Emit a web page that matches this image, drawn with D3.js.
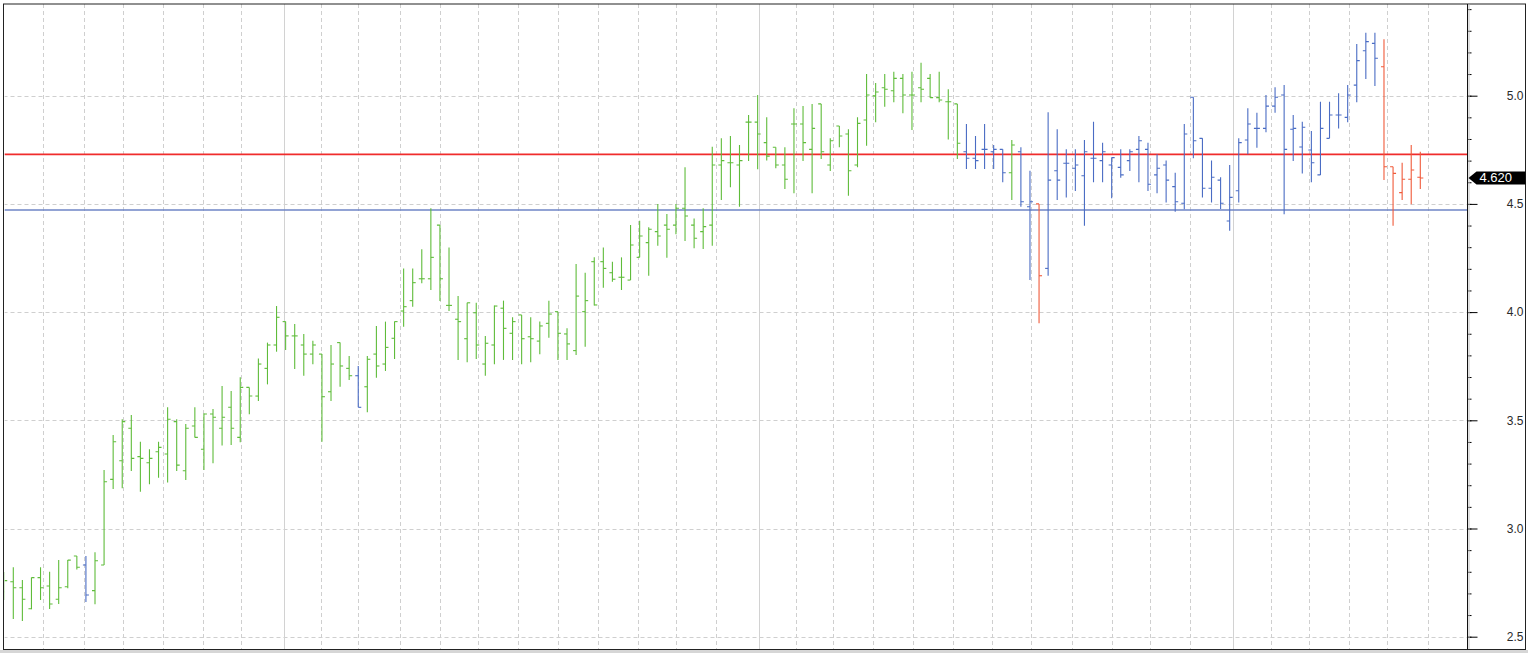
<!DOCTYPE html>
<html>
<head>
	<title>OHLC</title>
	<script src="https://cdn.jsdelivr.net/npm/d3@7/dist/d3.min.js"></script>
	<style>
	body { margin: 0; background: #fff; }
	svg { display: block; }
	.axis text { font: 12px "Liberation Sans", Arial, sans-serif; fill: #2a2a2a; }
	.axis path, .axis line { stroke: #000; }
	</style>
</head>
<body>
	<svg></svg>
<script>

	// OHLC per bar, oldest first
	var high = [2.799,2.821,2.762,2.773,2.821,2.800,2.854,2.854,2.873,2.873,2.890,3.270,3.432,3.505,3.525,3.401,3.366,3.401,3.560,3.505,
		3.483,3.560,3.532,3.552,3.658,3.635,3.699,3.652,3.786,3.859,4.028,3.956,3.945,3.899,3.868,3.806,3.848,3.859,3.797,3.751,
		3.797,3.936,3.956,3.956,4.202,4.202,4.290,4.480,4.402,4.299,4.074,4.043,4.043,3.890,4.031,4.053,3.976,3.987,3.976,3.956,
		4.053,4.002,3.925,4.222,4.182,4.253,4.299,4.233,4.253,4.402,4.422,4.392,4.500,4.453,4.500,4.669,4.433,4.480,4.764,4.803,
		4.814,4.772,4.911,5.003,4.900,4.762,4.762,4.942,4.952,4.962,4.962,4.803,4.860,4.845,4.900,5.100,5.059,5.100,5.111,5.100,
		5.111,5.152,5.100,5.111,5.030,4.962,4.869,4.814,4.869,4.772,4.752,4.795,4.762,4.653,4.500,4.923,4.845,4.752,4.752,4.795,
		4.880,4.783,4.714,4.752,4.752,4.814,4.783,4.729,4.700,4.644,4.869,4.993,4.803,4.700,4.623,4.680,4.803,4.942,4.921,5.003,
		5.039,5.049,4.911,4.880,4.837,4.972,4.972,5.011,5.049,5.239,5.291,5.291,5.261,4.672,4.690,4.772,4.741];
	var low = [2.670,2.582,2.573,2.627,2.670,2.628,2.651,2.724,2.811,2.660,2.650,2.831,3.183,3.186,3.266,3.170,3.204,3.235,3.212,3.266,
		3.224,3.421,3.270,3.301,3.383,3.386,3.398,3.528,3.589,3.666,3.817,3.825,3.737,3.706,3.759,3.401,3.589,3.655,3.686,3.560,
		3.537,3.697,3.728,3.783,3.932,4.025,4.133,4.102,4.051,4.005,3.779,3.768,3.783,3.706,3.759,3.779,3.779,3.759,3.768,3.805,
		3.882,3.779,3.779,3.802,3.840,4.030,4.113,4.140,4.102,4.148,4.253,4.168,4.307,4.251,4.360,4.329,4.295,4.292,4.307,4.518,
		4.577,4.487,4.698,4.660,4.700,4.665,4.569,4.549,4.698,4.549,4.708,4.652,4.762,4.538,4.669,4.769,4.877,4.949,4.970,4.919,
		4.841,4.970,4.991,4.970,4.798,4.708,4.661,4.661,4.661,4.661,4.600,4.518,4.487,4.148,3.948,4.168,4.518,4.529,4.560,4.399,
		4.600,4.600,4.526,4.621,4.652,4.600,4.560,4.549,4.507,4.464,4.475,4.711,4.530,4.507,4.476,4.376,4.507,4.729,4.760,4.831,
		4.921,4.452,4.698,4.641,4.600,4.634,4.803,4.849,4.877,4.970,5.077,5.045,4.610,4.399,4.518,4.498,4.569];
	var open = [2.707,2.754,2.726,2.629,2.773,2.734,2.673,2.731,2.873,2.831,2.713,2.831,3.227,3.313,3.463,3.332,3.304,3.355,3.344,3.494,
		3.267,3.474,3.366,3.529,3.463,3.560,3.421,3.652,3.612,3.740,3.848,3.956,3.890,3.848,3.806,3.806,3.632,3.859,3.740,3.706,
		3.655,3.806,3.760,3.879,4.005,4.053,4.154,4.154,4.402,4.031,3.967,3.877,3.997,3.760,3.848,4.018,3.902,3.987,3.886,3.866,
		3.948,4.002,3.899,3.822,4.002,4.233,4.233,4.182,4.161,4.148,4.253,4.321,4.372,4.402,4.402,4.480,4.402,4.372,4.402,4.680,
		4.690,4.680,4.878,4.878,4.783,4.762,4.680,4.869,4.869,4.752,4.962,4.680,4.860,4.823,4.680,4.888,4.999,5.037,5.023,5.080,
		5.003,5.037,5.080,4.991,4.972,4.962,4.741,4.711,4.752,4.741,4.752,4.644,4.741,4.487,4.500,4.202,4.653,4.688,4.665,4.630,
		4.711,4.700,4.680,4.669,4.700,4.752,4.752,4.634,4.680,4.580,4.503,4.993,4.803,4.572,4.610,4.421,4.561,4.795,4.849,4.849,
		4.952,5.003,4.845,4.763,4.749,4.634,4.803,4.911,4.900,5.049,5.208,5.242,5.134,4.672,4.552,4.614,4.623];
	var close = [2.759,2.726,2.673,2.773,2.726,2.651,2.726,2.854,2.821,2.693,2.851,3.216,3.401,3.494,3.324,3.324,3.324,3.375,3.505,3.293,
		3.463,3.421,3.529,3.514,3.514,3.463,3.652,3.612,3.760,3.848,3.976,3.890,3.890,3.806,3.848,3.609,3.760,3.751,3.706,3.560,
		3.782,3.751,3.837,3.956,4.025,4.136,4.154,4.253,4.154,4.031,3.956,4.043,3.848,3.856,4.028,3.925,3.956,3.877,3.877,3.936,
		3.991,3.902,3.853,4.074,4.053,4.033,4.202,4.152,4.161,4.310,4.352,4.383,4.352,4.383,4.480,4.444,4.341,4.395,4.680,4.700,
		4.690,4.700,4.878,4.823,4.721,4.680,4.614,4.869,4.783,4.849,4.741,4.792,4.814,4.653,4.872,5.003,5.017,5.030,5.080,5.003,
		5.003,5.030,4.991,4.980,4.972,4.780,4.711,4.700,4.752,4.752,4.644,4.772,4.510,4.510,4.168,4.610,4.610,4.688,4.680,4.741,
		4.711,4.741,4.714,4.634,4.741,4.792,4.591,4.665,4.610,4.510,4.823,4.792,4.572,4.623,4.503,4.530,4.783,4.869,4.849,4.952,
		4.993,4.752,4.849,4.854,4.690,4.849,4.911,4.911,5.003,5.162,5.250,5.173,4.672,4.641,4.614,4.657,4.620];

	// bar colour state as runs: g = up trend, b = neutral, r = down
	var trendRuns = [["g", 9], ["b", 1], ["g", 29], ["b", 1], ["g", 66], ["b", 5], ["g", 1],
		["b", 2], ["r", 1], ["b", 37], ["r", 5]];

	// reference levels
	var levels = [{name: "resistance", value: 4.729, color: "#f02c2c"},
		{name: "support", value: 4.472, color: "#6e84c6"}];

	// vertical grid positions, in bar units (solid = period start)
	var gridAt = [4.27, 8.82, 13.12, 17.52, 21.93, 26.08, 30.85, 34.90, 38.94, 43.60, 48.01, 52.16, 56.55, 60.97,
		65.38, 69.77, 74.01, 78.41, 83.18, 87.23, 91.27, 95.75, 100.08, 104.49, 108.86, 113.09, 117.63, 122.08,
		126.23, 130.64, 135.34, 139.56, 143.74, 148.15, 152.28, 156.87];
	var solidAt = [30.85, 83.18, 135.34];

	var majorTicks = [2.5, 3.0, 3.5, 4.0, 4.5, 5.0];
	var minorTicks = [2.5, 2.6, 2.7, 2.8, 2.9, 3.0, 3.1, 3.2, 3.3, 3.4, 3.5, 3.6, 3.7, 3.8, 3.9, 4.0,
		4.1, 4.2, 4.3, 4.4, 4.5, 4.6, 4.7, 4.8, 4.9, 5.0, 5.1, 5.2, 5.3, 5.4];

	var colors = {g: "#5fbc3a", b: "#4a6cc4", r: "#f05a3a"};

	var W = 1528, H = 653;
	var plot = {left: 3.5, top: 4, right: 1467.5, bottom: 649.5, edge: 1525.5};

	var trend = [];
	trendRuns.forEach(function(r) { for (var k = 0; k < r[1]; k++) trend.push(r[0]); });

	var bars = high.map(function(h, i) {
		return {i: i, high: h, low: low[i], open: open[i], close: close[i], state: trend[i]};
	});

	var svg = d3.select("svg").attr("width", W).attr("height", H);

	var x = d3.scaleLinear().domain([-0.08, 161.2]).range([plot.left, plot.right]);
	var y = d3.scaleLinear().domain([2.5, 5.0]).range([636.7, 95.7]);

	svg.append("rect").attr("x", 0).attr("y", 650).attr("width", W).attr("height", 3).attr("fill", "#d6d6d6");

	svg.append("clipPath").attr("id", "plotclip")
		.append("rect")
		.attr("x", plot.left + 1.2).attr("y", plot.top)
		.attr("width", plot.right - plot.left - 1.2).attr("height", plot.bottom - plot.top);

	var chart = svg.append("g").attr("clip-path", "url(#plotclip)");

	// grid
	chart.selectAll("line.hgrid")
		.data(majorTicks).enter()
		.append("line")
		.attr("class", "hgrid")
		.attr("x1", plot.left).attr("x2", plot.right)
		.attr("y1", function(d) { return Math.round(y(d)) + 0.5; })
		.attr("y2", function(d) { return Math.round(y(d)) + 0.5; })
		.attr("stroke", "#cfcfcf").attr("stroke-dasharray", "4,3");

	chart.selectAll("line.vgrid")
		.data(gridAt).enter()
		.append("line")
		.attr("class", "vgrid")
		.attr("x1", function(d) { return Math.round(x(d)) + 0.5; })
		.attr("x2", function(d) { return Math.round(x(d)) + 0.5; })
		.attr("y1", plot.top).attr("y2", plot.bottom)
		.attr("stroke", function(d) { return solidAt.indexOf(d) >= 0 ? "#d2d2d2" : "#cfcfcf"; })
		.attr("stroke-dasharray", function(d) { return solidAt.indexOf(d) >= 0 ? null : "4,3"; });

	// level lines
	chart.selectAll("line.level")
		.data(levels).enter()
		.append("line")
		.attr("class", "level")
		.attr("x1", plot.left).attr("x2", plot.right)
		.attr("y1", function(d) { return y(d.value); })
		.attr("y2", function(d) { return y(d.value); })
		.attr("stroke", function(d) { return d.color; })
		.attr("stroke-width", 1.6);

	// OHLC bars
	var bar = chart.selectAll("g.bar")
		.data(bars).enter()
		.append("g")
		.attr("class", "bar")
		.attr("stroke", function(d) { return colors[d.state]; })
		.attr("stroke-width", 1.1);

	bar.append("line")
		.attr("x1", function(d) { return x(d.i); })
		.attr("x2", function(d) { return x(d.i); })
		.attr("y1", function(d) { return y(d.high); })
		.attr("y2", function(d) { return y(d.low); });

	bar.append("line")
		.attr("x1", function(d) { return x(d.i) - 3; })
		.attr("x2", function(d) { return x(d.i); })
		.attr("y1", function(d) { return y(d.open); })
		.attr("y2", function(d) { return y(d.open); });

	bar.append("line")
		.attr("x1", function(d) { return x(d.i); })
		.attr("x2", function(d) { return x(d.i) + 3; })
		.attr("y1", function(d) { return y(d.close); })
		.attr("y2", function(d) { return y(d.close); });

	// y axis on the right
	svg.append("g")
		.attr("class", "axis")
		.attr("transform", "translate(" + plot.right + ",0)")
		.call(d3.axisRight(y).tickValues(minorTicks).tickSize(4).tickFormat(""))
		.call(function(g) { g.select(".domain").remove(); });

	var major = svg.append("g")
		.attr("class", "axis")
		.attr("transform", "translate(" + plot.right + ",0)")
		.call(d3.axisRight(y).tickValues(majorTicks).tickSize(10).tickFormat(d3.format(".1f")));
	major.select(".domain").remove();
	major.selectAll("text").attr("text-anchor", "end").attr("x", 56).attr("fill", "#2a2a2a");

	// frame
	svg.append("rect")
		.attr("x", plot.left).attr("y", plot.top)
		.attr("width", plot.edge - plot.left).attr("height", plot.bottom - plot.top)
		.attr("fill", "none").attr("stroke", "#222");
	svg.append("line")
		.attr("x1", plot.right).attr("x2", plot.right)
		.attr("y1", plot.top).attr("y2", plot.bottom)
		.attr("stroke", "#111");
	svg.append("line")
		.attr("x1", plot.right + 1.5).attr("x2", plot.right + 1.5)
		.attr("y1", plot.top + 0.5).attr("y2", plot.bottom - 0.5)
		.attr("stroke", "#c4c4c4");

	// last price tag
	var last = close[close.length - 1];
	var ty = y(last);
	svg.append("path")
		.attr("d", "M" + (plot.right + 1) + "," + ty + " L" + (plot.right + 9) + "," + (ty - 6.5) +
			" L" + plot.edge + "," + (ty - 6.5) + " L" + plot.edge + "," + (ty + 6.5) + " L" + (plot.right + 9) + "," + (ty + 6.5) + " Z")
		.attr("fill", "#000");
	svg.append("text")
		.attr("x", plot.right + 12).attr("y", ty + 4.5)
		.attr("fill", "#fff")
		.style("font", "13px 'Liberation Sans', Arial, sans-serif")
		.text(d3.format(".3f")(last));

</script>
</body>
</html>
